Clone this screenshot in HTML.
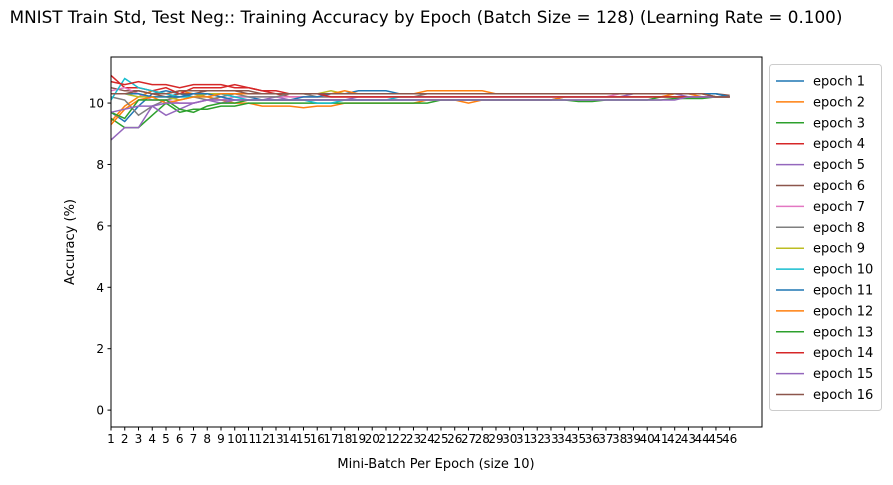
<!DOCTYPE html>
<html><head><meta charset="utf-8"><style>
body{margin:0;background:#fff;font-family:"Liberation Sans","DejaVu Sans",sans-serif;}
svg text{font-family:"DejaVu Sans","Liberation Sans",sans-serif;}
</style></head><body>
<svg id="chart" width="893" height="480" viewBox="0 0 893 480" xmlns="http://www.w3.org/2000/svg">
<text x="426" y="23" font-size="16.8" text-anchor="middle">MNIST Train Std, Test Neg:: Training Accuracy by Epoch (Batch Size = 128) (Learning Rate = 0.100)</text>
<g id="plot"></g>
<text x="436" y="468" font-size="13" text-anchor="middle">Mini-Batch Per Epoch (size 10)</text>
<text transform="translate(74,242) rotate(-90)" font-size="13" text-anchor="middle">Accuracy (%)</text>
<g id="legend"></g>
</svg>
<script>
const xTicks = Array.from({length:46},(_,i)=>i+1);
const yTicks = [0,2,4,6,8,10];
const seriesNames = ["epoch 1","epoch 2","epoch 3","epoch 4","epoch 5","epoch 6","epoch 7","epoch 8","epoch 9","epoch 10","epoch 11","epoch 12","epoch 13","epoch 14","epoch 15","epoch 16"];
const colors = ["#1f77b4","#ff7f0e","#2ca02c","#d62728","#9467bd","#8c564b","#e377c2","#7f7f7f","#bcbd22","#17becf","#1f77b4","#ff7f0e","#2ca02c","#d62728","#9467bd","#8c564b"];
const s1 = [9.7,9.4,9.9,10.3,10.4,10.3,10.2,10.3,10.3,10.2,10.2,10.1,10.1,10.1,10.1,10.1,10.1,10.1,10.1,10.1,10.1,10.1,10.1,10.1,10.1,10.1,10.1,10.1,10.1,10.1,10.1,10.1,10.1,10.2,10.2,10.2,10.2,10.2,10.2,10.2,10.2,10.2,10.2,10.2,10.2,10.2];
const s2 = [9.4,9.9,10.2,10.4,10.3,10.4,10.3,10.2,10.1,10.0,10.0,9.9,9.9,9.9,9.85,9.9,9.9,10.0,10.0,10.0,10.0,10.0,10.0,10.1,10.1,10.1,10.0,10.1,10.1,10.1,10.1,10.1,10.1,10.2,10.2,10.2,10.2,10.2,10.2,10.2,10.2,10.3,10.3,10.2,10.2,10.2];
const s3 = [9.5,9.2,9.2,9.6,10.0,9.7,9.8,9.8,9.9,9.9,10.0,10.0,10.0,10.0,10.0,10.0,10.0,10.0,10.0,10.0,10.0,10.0,10.0,10.0,10.1,10.1,10.1,10.1,10.1,10.1,10.1,10.1,10.1,10.1,10.05,10.05,10.1,10.1,10.1,10.1,10.1,10.15,10.15,10.15,10.2,10.2];
const s4 = [10.9,10.5,10.5,10.4,10.5,10.3,10.5,10.5,10.5,10.6,10.5,10.4,10.3,10.2,10.2,10.2,10.2,10.2,10.2,10.2,10.2,10.2,10.2,10.2,10.2,10.2,10.2,10.2,10.2,10.2,10.2,10.2,10.2,10.2,10.2,10.2,10.2,10.2,10.2,10.2,10.2,10.2,10.2,10.2,10.2,10.2];
const s5 = [8.8,9.2,9.2,9.9,9.6,9.8,10.0,10.1,10.0,10.1,10.1,10.1,10.2,10.1,10.1,10.1,10.1,10.1,10.2,10.2,10.2,10.2,10.2,10.2,10.2,10.2,10.2,10.2,10.2,10.2,10.2,10.2,10.2,10.2,10.2,10.2,10.2,10.2,10.3,10.3,10.3,10.3,10.2,10.2,10.2,10.2];
const s6 = [10.5,10.4,10.4,10.3,10.2,10.3,10.3,10.4,10.4,10.4,10.4,10.3,10.3,10.3,10.3,10.3,10.3,10.3,10.3,10.3,10.3,10.3,10.3,10.3,10.3,10.3,10.3,10.3,10.3,10.3,10.3,10.3,10.3,10.3,10.3,10.3,10.3,10.3,10.3,10.3,10.3,10.3,10.3,10.3,10.3,10.25];
const s7 = [10.4,10.5,10.3,10.1,10.1,10.0,10.0,10.1,10.1,10.2,10.2,10.2,10.2,10.2,10.2,10.2,10.2,10.2,10.2,10.2,10.2,10.2,10.2,10.2,10.2,10.2,10.2,10.2,10.2,10.2,10.2,10.2,10.2,10.2,10.2,10.2,10.2,10.3,10.3,10.3,10.3,10.3,10.3,10.3,10.2,10.2];
const s8 = [10.2,10.1,9.6,9.9,10.1,10.2,10.2,10.1,10.2,10.3,10.2,10.2,10.2,10.3,10.3,10.2,10.2,10.2,10.2,10.2,10.2,10.2,10.2,10.3,10.3,10.3,10.3,10.3,10.3,10.3,10.3,10.3,10.3,10.3,10.3,10.3,10.3,10.3,10.3,10.3,10.3,10.3,10.3,10.3,10.3,10.2];
const s9 = [10.3,10.3,10.2,10.2,10.2,10.1,10.2,10.3,10.3,10.3,10.3,10.3,10.3,10.3,10.3,10.3,10.4,10.3,10.3,10.3,10.3,10.3,10.3,10.3,10.3,10.3,10.3,10.3,10.3,10.3,10.3,10.3,10.3,10.3,10.3,10.3,10.3,10.3,10.3,10.3,10.3,10.3,10.3,10.3,10.2,10.2];
const s10 = [10.1,10.8,10.5,10.4,10.3,10.2,10.2,10.2,10.3,10.2,10.1,10.1,10.1,10.1,10.1,10.0,10.0,10.1,10.1,10.1,10.1,10.2,10.2,10.2,10.2,10.2,10.2,10.2,10.2,10.2,10.2,10.2,10.2,10.2,10.2,10.2,10.2,10.2,10.2,10.2,10.2,10.2,10.2,10.2,10.2,10.2];
const s11 = [10.3,10.3,10.3,10.2,10.2,10.2,10.3,10.3,10.2,10.1,10.1,10.1,10.1,10.1,10.2,10.2,10.3,10.3,10.4,10.4,10.4,10.3,10.3,10.3,10.3,10.3,10.3,10.3,10.3,10.3,10.3,10.3,10.3,10.3,10.3,10.3,10.3,10.3,10.3,10.3,10.3,10.3,10.3,10.3,10.3,10.2];
const s12 = [9.3,9.8,10.1,10.2,10.0,10.1,10.2,10.2,10.3,10.3,10.3,10.3,10.3,10.3,10.3,10.3,10.3,10.4,10.3,10.3,10.3,10.3,10.3,10.4,10.4,10.4,10.4,10.4,10.3,10.3,10.3,10.3,10.3,10.3,10.3,10.3,10.3,10.3,10.3,10.3,10.3,10.3,10.3,10.3,10.2,10.2];
const s13 = [9.7,9.5,10.1,10.1,10.1,9.8,9.7,9.9,10.0,10.0,10.1,10.1,10.1,10.1,10.1,10.1,10.1,10.1,10.1,10.1,10.1,10.1,10.1,10.1,10.1,10.1,10.1,10.1,10.1,10.1,10.1,10.1,10.1,10.1,10.1,10.1,10.1,10.1,10.1,10.1,10.2,10.2,10.2,10.2,10.2,10.2];
const s14 = [10.7,10.6,10.7,10.6,10.6,10.5,10.6,10.6,10.6,10.5,10.5,10.4,10.4,10.3,10.3,10.3,10.2,10.2,10.2,10.2,10.2,10.2,10.2,10.2,10.2,10.2,10.2,10.2,10.2,10.2,10.2,10.2,10.2,10.2,10.2,10.2,10.2,10.2,10.2,10.2,10.2,10.2,10.2,10.2,10.2,10.2];
const s15 = [9.7,9.8,9.9,9.9,10.0,10.0,10.0,10.1,10.1,10.1,10.1,10.1,10.1,10.1,10.1,10.1,10.1,10.1,10.1,10.1,10.1,10.1,10.1,10.1,10.1,10.1,10.1,10.1,10.1,10.1,10.1,10.1,10.1,10.1,10.1,10.1,10.1,10.1,10.1,10.1,10.1,10.1,10.2,10.2,10.2,10.2];
const s16 = [10.3,10.3,10.4,10.3,10.3,10.4,10.4,10.4,10.4,10.4,10.3,10.3,10.3,10.3,10.3,10.3,10.3,10.3,10.3,10.3,10.3,10.3,10.3,10.3,10.3,10.3,10.3,10.3,10.3,10.3,10.3,10.3,10.3,10.3,10.3,10.3,10.3,10.3,10.3,10.3,10.3,10.3,10.3,10.3,10.2,10.2];
const seriesValues = [s1,s2,s3,s4,s5,s6,s7,s8,s9,s10,s11,s12,s13,s14,s15,s16];

const NS="http://www.w3.org/2000/svg";
const L=111,R=762,T=57,B=427;
const xMin=1,xMax=48.35,yMin=-0.55,yMax=11.5;
const xs=v=>L+(v-xMin)/(xMax-xMin)*(R-L);
const ys=v=>B-(v-yMin)/(yMax-yMin)*(B-T);
const plot=document.getElementById('plot');
function mk(tag,attrs,parent){const e=document.createElementNS(NS,tag);for(const k in attrs)e.setAttribute(k,attrs[k]);parent.appendChild(e);return e;}

seriesValues.forEach((vals,si)=>{
  const d=vals.map((v,i)=>(i?'L':'M')+xs(xTicks[i]).toFixed(1)+','+ys(v).toFixed(1)).join('');
  const p=mk('path',{d:d,fill:'none',stroke:colors[si],'stroke-width':1.5},plot);
  
  
});
const frame=mk('rect',{x:L,y:T,width:R-L,height:B-T,fill:'none',stroke:'#000','stroke-width':1},plot);


xTicks.forEach(t=>{
  const x=xs(t);
  mk('line',{x1:x,x2:x,y1:B,y2:B+3.5,stroke:'#000'},plot);
  const tx=mk('text',{x:x,y:B+16,'font-size':12,'text-anchor':'middle'},plot);
  tx.textContent=t;
  
  
});
yTicks.forEach(t=>{
  const y=ys(t);
  mk('line',{x1:L-3.5,x2:L,y1:y,y2:y,stroke:'#000'},plot);
  const tx=mk('text',{x:L-7,y:y+4.5,'font-size':12,'text-anchor':'end'},plot);
  tx.textContent=t;
  
  
});

const lg=document.getElementById('legend');
const box=mk('rect',{x:769.5,y:64.5,width:112,height:346,rx:3,fill:'#fff',stroke:'#ccc'},lg);


seriesNames.forEach((n,i)=>{
  const y=81+i*20.9;
  const g=mk('g',{},lg);
  
  
  mk('line',{x1:776,x2:804,y1:y,y2:y,stroke:colors[i],'stroke-width':1.5},g);
  const t=mk('text',{x:813,y:y+4.5,'font-size':13},g);
  t.textContent=n;
});
</script>
</body></html>
